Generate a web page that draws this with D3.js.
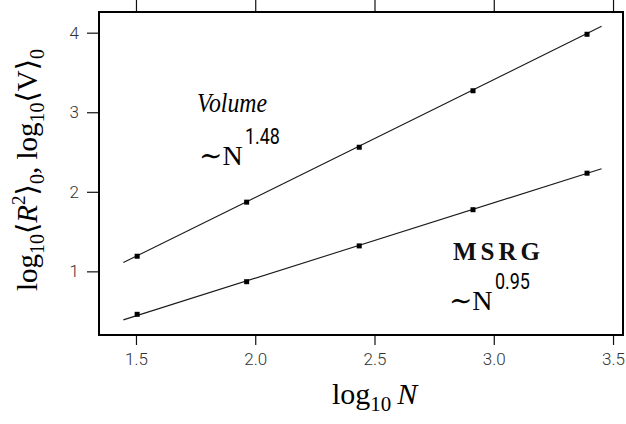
<!DOCTYPE html>
<html>
<head>
<meta charset="utf-8">
<script src="https://cdn.jsdelivr.net/npm/d3@7"></script>
<style>
  body { margin: 0; background: #fff; }
  svg { display: block; }
</style>
</head>
<body>
<svg id="chart" width="626" height="424"></svg>
<script>
// log10 N for the five chain sizes
const logN = [1.505, 1.964, 2.436, 2.913, 3.391];
// log10 <V>0 and log10 <R^2>0
const volumeVals = [1.19, 1.87, 2.56, 3.27, 3.98];
const msrgVals = [0.46, 0.87, 1.32, 1.775, 2.234];
// fitted power-law lines (end points, in log units)
const volumeFit = [[1.447, 1.11], [3.452, 4.08]];
const msrgFit = [[1.447, 0.39], [3.452, 2.29]];

const xTicks = [1.5, 2.0, 2.5, 3.0, 3.5];
const yTicks = [1, 2, 3, 4];

const svg = d3.select("#chart"),
      width = +svg.attr("width"),
      height = +svg.attr("height"),
      margin = {top: 12, right: 2, bottom: 89, left: 99};

const x = d3.scaleLinear().domain([1.345, 3.546]).range([margin.left, width - margin.right]);
const y = d3.scaleLinear().domain([0.2, 4.26]).range([height - margin.bottom, margin.top]);

const tickFont = "Roboto, 'DejaVu Sans', sans-serif";

// bottom axis with labels
const xAxis = svg.append("g")
    .attr("transform", `translate(0,${height - margin.bottom})`)
    .call(d3.axisBottom(x).tickValues(xTicks).tickFormat(d3.format(".1f")).tickSize(10).tickPadding(8));

// top axis, ticks only
const xTop = svg.append("g")
    .attr("transform", `translate(0,${margin.top})`)
    .call(d3.axisTop(x).tickValues(xTicks).tickFormat("").tickSize(12));

const yAxis = svg.append("g")
    .attr("transform", `translate(${margin.left},0)`)
    .call(d3.axisLeft(y).tickValues(yTicks).tickFormat(d3.format("d")).tickSize(12).tickPadding(8));

[xAxis, xTop, yAxis].forEach(g => {
    g.select(".domain").remove();
    g.selectAll("line").attr("stroke", "#111").attr("stroke-width", 1.2);
    g.selectAll("text")
        .attr("font-family", tickFont)
        .attr("font-weight", 300)
        .attr("font-size", 17)
        .attr("fill", "#333");
});

// frame
svg.append("rect")
    .attr("x", margin.left)
    .attr("y", margin.top)
    .attr("width", width - margin.left - margin.right - 1)
    .attr("height", height - margin.top - margin.bottom)
    .attr("fill", "none")
    .attr("stroke", "#000")
    .attr("stroke-width", 2);

const line = d3.line().x(d => x(d[0])).y(d => y(d[1]));

[volumeFit, msrgFit].forEach(fit => {
    svg.append("path")
        .datum(fit)
        .attr("d", line)
        .attr("fill", "none")
        .attr("stroke", "#1a1a1a")
        .attr("stroke-width", 1.1);
});

[volumeVals, msrgVals].forEach(vals => {
    svg.append("g").selectAll("rect")
        .data(vals)
        .join("rect")
        .attr("x", (d, i) => x(logN[i]) - 2.5)
        .attr("y", d => y(d) - 2.5)
        .attr("width", 5)
        .attr("height", 5)
        .attr("fill", "#000");
});

// annotations
const serif = "'Liberation Serif', 'DejaVu Serif', serif";

svg.append("text")
    .attr("x", x(1.756)).attr("y", y(3.0))
    .attr("font-family", serif)
    .attr("font-style", "italic")
    .attr("font-size", 28)
    .attr("textLength", 70)
    .attr("lengthAdjust", "spacingAndGlyphs")
    .text("Volume");

svg.append("text")
    .attr("x", x(2.829)).attr("y", y(1.143))
    .attr("font-family", serif)
    .attr("font-weight", "bold")
    .attr("font-size", 25)
    .attr("letter-spacing", 4)
    .attr("fill", "#111")
    .text("MSRG");

const powers = [
    {x: 1.764, y: 2.337, exp: "1.48"},
    {x: 2.812, y: 0.514, exp: "0.95"}
];

powers.forEach(p => {
    svg.append("text")
        .attr("x", x(p.x)).attr("y", y(p.y))
        .attr("font-family", serif)
        .attr("font-size", 28)
        .text("∼N");
    svg.append("text")
        .attr("x", x(p.x) + 46).attr("y", y(p.y) - 21)
        .attr("font-family", tickFont)
        .attr("font-size", 22)
        .attr("textLength", 35)
        .attr("lengthAdjust", "spacingAndGlyphs")
        .text(p.exp);
});

// axis titles
const xLabel = svg.append("text")
    .attr("x", 332).attr("y", 404)
    .attr("font-family", serif)
    .attr("font-size", 30);
xLabel.append("tspan").text("log");
xLabel.append("tspan").attr("font-size", 21).attr("dy", 7).text("10");
xLabel.append("tspan").attr("dy", -7).attr("dx", 6).attr("font-style", "italic").text("N");

const yLabel = svg.append("text")
    .attr("transform", "translate(37,170) rotate(-90)")
    .attr("text-anchor", "middle")
    .attr("font-family", serif)
    .attr("font-size", 29);
yLabel.append("tspan").text("log");
yLabel.append("tspan").attr("font-size", 20).attr("dy", 7).text("10");
yLabel.append("tspan").attr("dy", -7).text("⟨");
yLabel.append("tspan").attr("font-style", "italic").text("R");
yLabel.append("tspan").attr("font-size", 19).attr("dy", -12).text("2");
yLabel.append("tspan").attr("dy", 12).text("⟩");
yLabel.append("tspan").attr("font-size", 20).attr("dy", 7).text("0");
yLabel.append("tspan").attr("dy", -7).text(",  log");
yLabel.append("tspan").attr("font-size", 20).attr("dy", 7).text("10");
yLabel.append("tspan").attr("dy", -7).text("⟨V⟩");
yLabel.append("tspan").attr("font-size", 20).attr("dy", 7).text("0");
</script>
</body>
</html>
